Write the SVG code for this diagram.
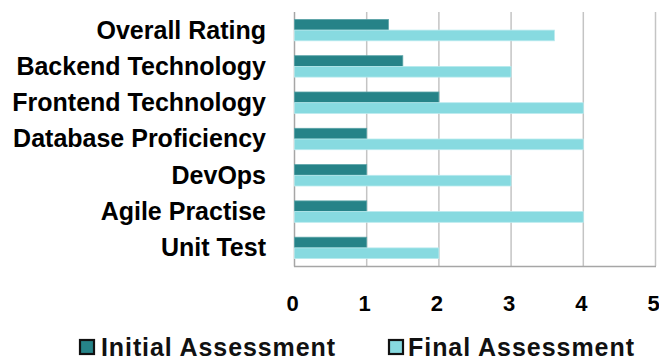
<svg xmlns="http://www.w3.org/2000/svg" width="659" height="362" viewBox="0 0 659 362">
<style>
.lbl{font-family:"Liberation Sans",Arial,sans-serif;font-weight:bold;font-size:25px;fill:#000;text-anchor:end}
.num{font-family:"Liberation Sans",Arial,sans-serif;font-weight:bold;font-size:22px;fill:#000;text-anchor:middle}
.leg{font-family:"Liberation Sans",Arial,sans-serif;font-weight:bold;font-size:25px;fill:#111}
.grid{stroke:#c4c4c4;stroke-width:1.5}
.axis{stroke:#a6a6a6;stroke-width:1.5}
.ini{fill:#268388;stroke:#5aa3a7;stroke-width:0.8}
.fin{fill:#87dae0;stroke:#b9eaee;stroke-width:0.8}
</style>
<rect width="659" height="362" fill="#fff"/>
<g id="gridlines">
<line class="grid" x1="366.7" y1="12" x2="366.7" y2="266"/>
<line class="grid" x1="438.9" y1="12" x2="438.9" y2="266"/>
<line class="grid" x1="511.1" y1="12" x2="511.1" y2="266"/>
<line class="grid" x1="583.3" y1="12" x2="583.3" y2="266"/>
<line class="grid" x1="655.5" y1="12" x2="655.5" y2="266"/>
</g>
<g id="axes">
<line class="axis" x1="294.5" y1="12" x2="294.5" y2="266.5"/>
<line class="axis" x1="294" y1="266.5" x2="656" y2="266.5"/>
</g>
<g id="cat-overall">
<text class="lbl" x="266" y="38.5">Overall Rating</text>
<rect class="ini" x="294.5" y="19.4" width="93.9" height="10.7"/>
<rect class="fin" x="294.5" y="30.1" width="259.9" height="10.7"/>
</g>
<g id="cat-backend">
<text class="lbl" x="266" y="74.8">Backend Technology</text>
<rect class="ini" x="294.5" y="55.7" width="108.3" height="10.7"/>
<rect class="fin" x="294.5" y="66.4" width="216.6" height="10.7"/>
</g>
<g id="cat-frontend">
<text class="lbl" x="266" y="111.1">Frontend Technology</text>
<rect class="ini" x="294.5" y="92" width="144.4" height="10.7"/>
<rect class="fin" x="294.5" y="102.7" width="288.8" height="10.7"/>
</g>
<g id="cat-database">
<text class="lbl" x="266" y="147.4">Database Proficiency</text>
<rect class="ini" x="294.5" y="128.3" width="72.2" height="10.7"/>
<rect class="fin" x="294.5" y="139" width="288.8" height="10.7"/>
</g>
<g id="cat-devops">
<text class="lbl" x="266" y="183.7">DevOps</text>
<rect class="ini" x="294.5" y="164.6" width="72.2" height="10.7"/>
<rect class="fin" x="294.5" y="175.3" width="216.6" height="10.7"/>
</g>
<g id="cat-agile">
<text class="lbl" x="266" y="220">Agile Practise</text>
<rect class="ini" x="294.5" y="200.9" width="72.2" height="10.7"/>
<rect class="fin" x="294.5" y="211.6" width="288.8" height="10.7"/>
</g>
<g id="cat-unit">
<text class="lbl" x="266" y="256.3">Unit Test</text>
<rect class="ini" x="294.5" y="237.2" width="72.2" height="10.7"/>
<rect class="fin" x="294.5" y="247.9" width="144.4" height="10.7"/>
</g>
<g id="x-ticks">
<text class="num" x="292.5" y="311">0</text>
<text class="num" x="364.7" y="311">1</text>
<text class="num" x="436.9" y="311">2</text>
<text class="num" x="509.1" y="311">3</text>
<text class="num" x="581.3" y="311">4</text>
<text class="num" x="653.5" y="311">5</text>
</g>
<g id="legend">
<rect x="80" y="340" width="14" height="14" fill="#268388" stroke="#111" stroke-width="2.2"/>
<text class="leg" x="101" y="356" textLength="234" lengthAdjust="spacing">Initial Assessment</text>
<rect x="389" y="340" width="14" height="14" fill="#87dae0" stroke="#111" stroke-width="2.2"/>
<text class="leg" x="408" y="356" textLength="226" lengthAdjust="spacing">Final Assessment</text>
</g>
</svg>
